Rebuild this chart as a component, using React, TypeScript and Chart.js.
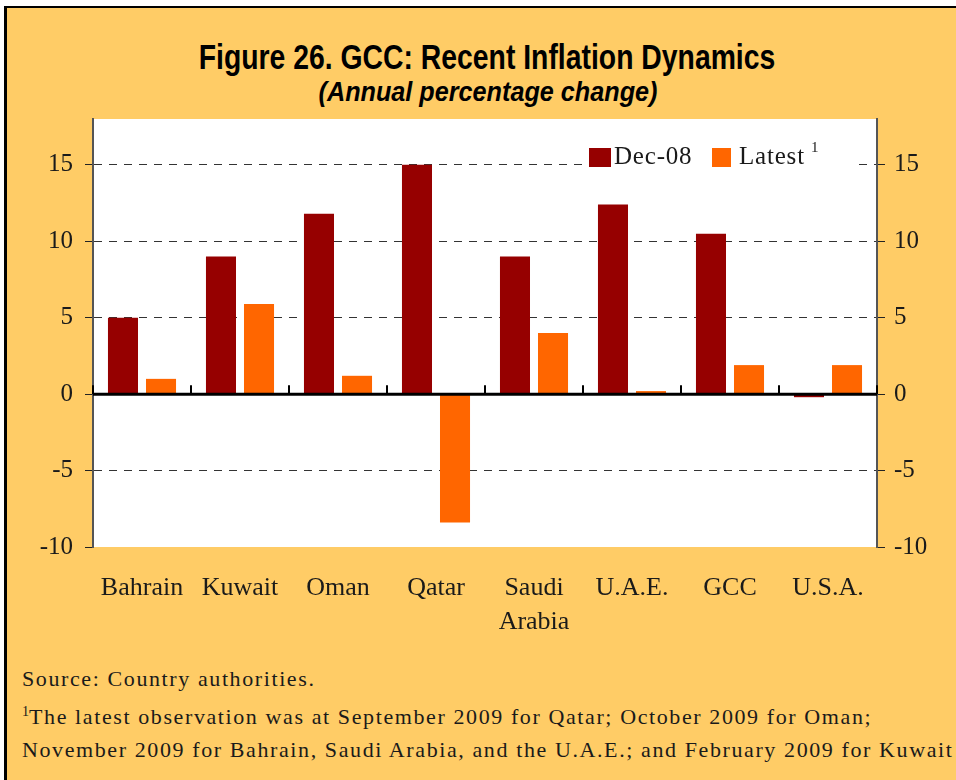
import React, { useEffect, useRef } from "react";
import { Chart, registerables } from "chart.js";

Chart.register(...registerables);

const categories: (string | string[])[] = ["Bahrain", "Kuwait", "Oman", "Qatar", ["Saudi", "Arabia"], "U.A.E.", "GCC", "U.S.A."];
const dec08 = [5.0, 9.0, 11.8, 15.0, 9.0, 12.4, 10.5, -0.2];
const latest = [1.0, 5.9, 1.2, -8.4, 4.0, 0.2, 1.9, 1.9];
const yTicks = [-10, -5, 0, 5, 10, 15];
const seriesNames = ["Dec-08", "Latest"];

const DARK = "#960000";
const ORANGE = "#FF6600";
const BG = "#FFCC66";
const SERIF = "'Liberation Serif', 'Times New Roman', serif";

const chartBg = {
  id: "chartBg",
  beforeDraw(chart: any) {
    const { ctx, chartArea: a } = chart;
    ctx.save();
    ctx.fillStyle = "#ffffff";
    ctx.fillRect(a.left, a.top, a.right - a.left, a.bottom - a.top);
    ctx.restore();
  },
};

const zeroLine = {
  id: "zeroLine",
  afterDatasetsDraw(chart: any) {
    const { ctx, chartArea: a, scales } = chart;
    const y0 = scales.y.getPixelForValue(0);
    const xs = scales.x;
    const n = categories.length;
    ctx.save();
    ctx.strokeStyle = "#000";
    ctx.lineWidth = 3;
    ctx.beginPath();
    ctx.moveTo(a.left, y0);
    ctx.lineTo(a.right, y0);
    ctx.stroke();
    ctx.lineWidth = 2;
    const bounds: number[] = [a.left];
    for (let i = 0; i < n - 1; i++) {
      bounds.push((xs.getPixelForValue(i) + xs.getPixelForValue(i + 1)) / 2);
    }
    bounds.push(a.right);
    bounds.forEach((x) => {
      ctx.beginPath();
      ctx.moveTo(x, y0 - 9);
      ctx.lineTo(x, y0);
      ctx.stroke();
    });
    ctx.restore();
  },
};

function yAxis(position: "left" | "right", width: number, onArea: boolean) {
  return {
    type: "linear",
    position,
    min: -10,
    max: 18,
    afterBuildTicks: (s: any) => {
      s.ticks = yTicks.map((v) => ({ value: v }));
    },
    afterFit: (s: any) => {
      s.width = width;
    },
    ticks: {
      font: { family: SERIF, size: 25 },
      color: "#1a1a1a",
      padding: position === "left" ? 12 : 9,
      callback: (v: any) => String(v),
    },
    grid: {
      drawOnChartArea: onArea,
      drawTicks: true,
      tickLength: 8,
      tickColor: "#222",
      tickWidth: 1,
      color: (c: any) => (c.tick && (c.tick.value === -10 || c.tick.value === 0) ? "rgba(0,0,0,0)" : "#333"),
      lineWidth: 1,
    },
    border: {
      display: true,
      color: "#555",
      width: 2,
      dash: [8, 7],
    },
  };
}

export default function App() {
  const ref = useRef<HTMLCanvasElement>(null);

  useEffect(() => {
    document.body.style.margin = "0";
    const chart = new Chart(ref.current as HTMLCanvasElement, {
      type: "bar",
      data: {
        labels: categories as any,
        datasets: [
          { label: seriesNames[0], data: dec08, backgroundColor: DARK, yAxisID: "y" },
          { label: seriesNames[1], data: latest, backgroundColor: ORANGE, yAxisID: "y" },
        ],
      },
      options: {
        animation: false,
        responsive: false,
        maintainAspectRatio: false,
        layout: { padding: { top: 11, left: 0, right: 0, bottom: 0 } },
        datasets: { bar: { categoryPercentage: 0.776, barPercentage: 0.79 } } as any,
        plugins: { legend: { display: false }, tooltip: { enabled: false }, title: { display: false } },
        scales: {
          x: {
            afterFit: (s: any) => {
              s.height = 113;
            },
            grid: { display: false, drawTicks: false },
            border: { display: false },
            ticks: {
              font: { family: SERIF, size: 26, lineHeight: 1.31 },
              color: "#1a1a1a",
              padding: 24,
              maxRotation: 0,
              autoSkip: false,
            },
          },
          y: yAxis("left", 93, true) as any,
          y2: yAxis("right", 79, false) as any,
        },
      },
      plugins: [chartBg, zeroLine],
    });
    return () => chart.destroy();
  }, []);

  const text = "#1a1a1a";
  return (
    <div style={{ position: "relative", width: 956, height: 780, background: "#fff", overflow: "hidden" }}>
      <div
        style={{
          position: "absolute",
          left: 4,
          top: 6,
          width: 980,
          height: 800,
          background: BG,
          borderTop: "2px solid #000",
          borderLeft: "3px solid #000",
        }}
      />
      <div
        style={{
          position: "absolute",
          left: 487,
          top: 37,
          transform: "translateX(-50%) scaleX(0.81)",
          whiteSpace: "nowrap",
          fontFamily: "'Liberation Sans', Arial, sans-serif",
          fontWeight: "bold",
          fontSize: 35,
          lineHeight: "40px",
          color: "#000",
        }}
      >
        Figure 26. GCC: Recent Inflation Dynamics
      </div>
      <div
        style={{
          position: "absolute",
          left: 488,
          top: 76,
          transform: "translateX(-50%) scaleX(0.9)",
          whiteSpace: "nowrap",
          fontFamily: "'Liberation Sans', Arial, sans-serif",
          fontWeight: "bold",
          fontStyle: "italic",
          fontSize: 28,
          lineHeight: "32px",
          color: "#000",
        }}
      >
        (Annual percentage change)
      </div>
      <canvas ref={ref} width={956} height={568} style={{ position: "absolute", left: 0, top: 92, width: 956, height: 568 }} />
      {/* legend */}
      <div style={{ position: "absolute", left: 586, top: 140, width: 272, height: 32, background: "#fff" }} />
      <div style={{ position: "absolute", left: 589, top: 148, width: 22, height: 19, background: DARK }} />
      <div style={{ position: "absolute", left: 614, top: 142, fontFamily: SERIF, fontSize: 25, lineHeight: "28px", color: text, whiteSpace: "nowrap", letterSpacing: 0.8 }}>
        {seriesNames[0]}
      </div>
      <div style={{ position: "absolute", left: 712, top: 148, width: 19, height: 19, background: ORANGE }} />
      <div style={{ position: "absolute", left: 739, top: 142, fontFamily: SERIF, fontSize: 25, lineHeight: "28px", color: text, whiteSpace: "nowrap", letterSpacing: 0.8 }}>
        {seriesNames[1]}
        <span style={{ fontSize: 15, position: "relative", top: -12, marginLeft: 6 }}>1</span>
      </div>
      {/* notes */}
      <div
        style={{
          position: "absolute",
          left: 22,
          top: 664,
          fontFamily: SERIF,
          fontSize: 22,
          lineHeight: "30px",
          color: text,
          whiteSpace: "nowrap",
          letterSpacing: 1.6,
        }}
      >
        <div>Source: Country authorities.</div>
        <div style={{ marginTop: 8 }}>
          <span style={{ fontSize: 14, position: "relative", top: -8, letterSpacing: 0 }}>1</span>
          The latest observation was at September 2009 for Qatar; October 2009 for Oman;
        </div>
        <div>November 2009 for Bahrain, Saudi Arabia, and the U.A.E.; and February 2009 for Kuwait</div>
      </div>
    </div>
  );
}
